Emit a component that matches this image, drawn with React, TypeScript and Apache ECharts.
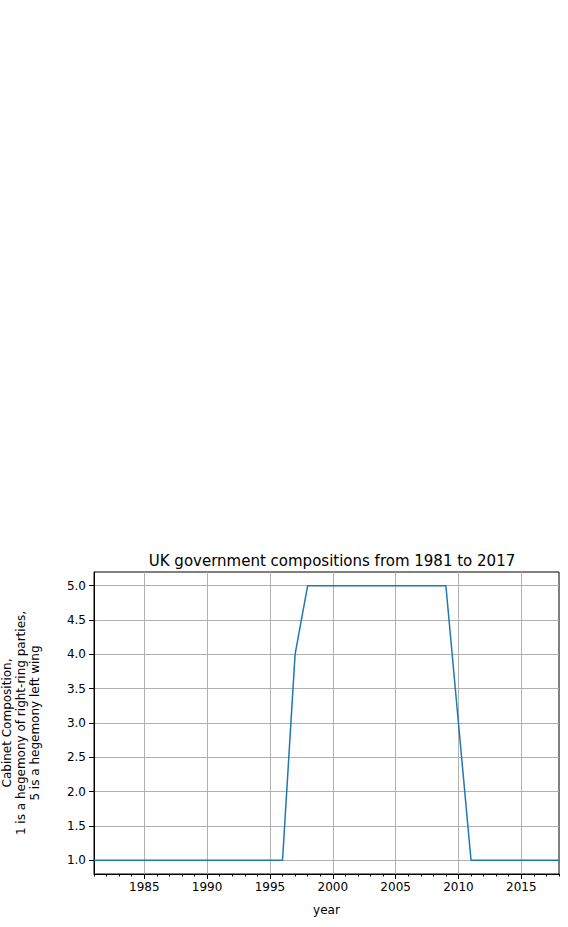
import { useEffect, useRef } from "react";
import * as echarts from "echarts";

const years = [
  1981, 1982, 1983, 1984, 1985, 1986, 1987, 1988, 1989, 1990, 1991, 1992, 1993,
  1994, 1995, 1996, 1997, 1998, 1999, 2000, 2001, 2002, 2003, 2004, 2005, 2006,
  2007, 2008, 2009, 2010, 2011, 2012, 2013, 2014, 2015, 2016, 2017, 2018,
];
const composition = [
  1, 1, 1, 1, 1, 1, 1, 1, 1, 1, 1, 1, 1, 1, 1, 1, 4, 5, 5, 5, 5, 5, 5, 5, 5, 5,
  5, 5, 5, 3, 1, 1, 1, 1, 1, 1, 1, 1,
];
const xTicks = [1985, 1990, 1995, 2000, 2005, 2010, 2015];
const yTicks = [1.0, 1.5, 2.0, 2.5, 3.0, 3.5, 4.0, 4.5, 5.0];

const font = "DejaVu Sans";

export default function App() {
  const ref = useRef<HTMLDivElement | null>(null);

  useEffect(() => {
    if (!ref.current) return;
    const chart = echarts.init(ref.current, undefined, { renderer: "svg" });
    const axisLine = { show: true, lineStyle: { color: "#000", width: 1 } };
    chart.setOption({
      animation: false,
      textStyle: { fontFamily: font },
      title: {
        text: "UK government compositions from 1981 to 2017",
        left: 327,
        textAlign: "center",
        top: 548,
        textStyle: { fontSize: 15, fontWeight: "normal", color: "#000", fontFamily: font },
      },
      grid: {
        left: 94,
        right: 9,
        top: 572,
        bottom: 53,
        containLabel: false,
        outerBoundsMode: "none",
        show: true,
        borderColor: "#000",
        borderWidth: 1,
      },
      xAxis: [
        {
          type: "value",
          min: 1981,
          max: 2018,
          name: "year",
          nameLocation: "middle",
          nameGap: 30,
          nameTextStyle: { color: "#000", fontSize: 12 },
          axisLine,
          axisTick: { show: true, customValues: xTicks, length: 5, lineStyle: { color: "#000" } },
          axisLabel: {
            customValues: xTicks,
            color: "#000",
            fontSize: 12,
            margin: 7,
            formatter: (v: number) => String(v),
          },
          splitLine: { show: true, lineStyle: { color: "#b0b0b0", width: 1 } },
        },
        {
          type: "value",
          min: 1981,
          max: 2018,
          interval: 1,
          position: "bottom",
          axisLine: { show: false },
          axisTick: { show: true, length: 2.5, lineStyle: { color: "#000" } },
          axisLabel: { show: false },
          splitLine: { show: false },
        },
      ],
      yAxis: {
        type: "value",
        min: 0.8,
        max: 5.2,
        name: "Cabinet Composition,\n1 is a hegemony of right-ring parties,\n5 is a hegemony left wing",
        nameLocation: "middle",
        nameRotate: 90,
        nameGap: 52,
        nameTextStyle: { color: "#000", fontSize: 12, lineHeight: 14 },
        axisLine,
        axisTick: { show: true, customValues: yTicks, length: 5, lineStyle: { color: "#000" } },
        axisLabel: {
          customValues: yTicks,
          color: "#000",
          fontSize: 12,
          formatter: (v: number) => v.toFixed(1),
        },
        splitLine: { show: true, lineStyle: { color: "#b0b0b0", width: 1 } },
      },
      series: [
        {
          type: "line",
          data: years.map((y, i) => [y, composition[i]]),
          symbol: "none",
          lineStyle: { color: "#1f77b4", width: 1.5 },
        },
      ],
    });
    return () => chart.dispose();
  }, []);

  return <div ref={ref} style={{ position: "absolute", left: 0, top: 0, width: 568, height: 927 }} />;
}
